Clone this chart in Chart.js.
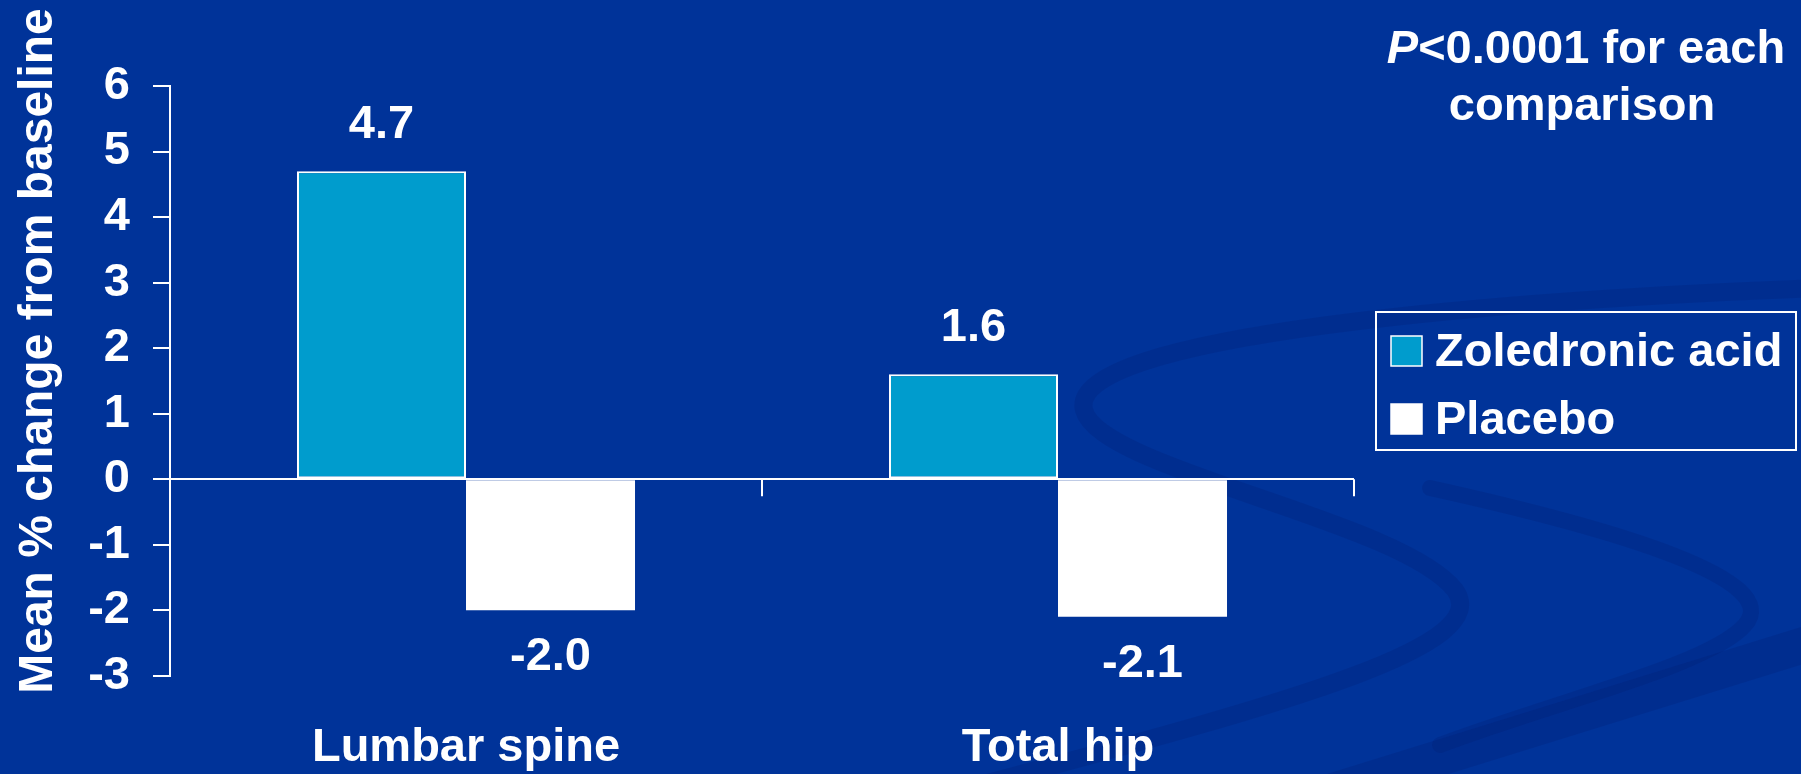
<!DOCTYPE html>
<html>
<head>
<meta charset="utf-8">
<script src="https://cdn.jsdelivr.net/npm/chart.js@4.4.1/dist/chart.umd.min.js"></script>
<style>
  html, body { margin: 0; padding: 0; background: #003399; }
  #wrap { width: 1801px; height: 774px; position: relative; }
</style>
</head>
<body>
<div id="wrap"><canvas id="bmdChart"></canvas></div>
<script>
const categories = ['Lumbar spine', 'Total hip'];
const seriesNames = ['Zoledronic acid', 'Placebo'];
const zoledronicValues = [4.7, 1.6];
const placeboValues = [-2.0, -2.1];
const yTicks = [-3, -2, -1, 0, 1, 2, 3, 4, 5, 6];
const yTitle = 'Mean % change from baseline';
const noteLines = ['<0.0001 for each', 'comparison'];

const FONT = "'Liberation Sans', Arial, sans-serif";
const TEAL = '#009ccd';

// background swooshes, drawn under the chart
const swooshPlugin = {
    id: 'swoosh',
    beforeDraw: (chart) => {
        const ctx = chart.ctx;
        ctx.save();
        ctx.lineCap = 'round';
        ctx.strokeStyle = 'rgba(0, 28, 110, 0.22)';
        ctx.lineWidth = 18;
        ctx.beginPath();
        ctx.moveTo(1820, 288);
        ctx.bezierCurveTo(1500, 300, 1065, 335, 1084, 410);
        ctx.bezierCurveTo(1100, 470, 1400, 520, 1455, 590);
        ctx.bezierCurveTo(1495, 645, 1300, 700, 980, 785);
        ctx.stroke();
        ctx.lineWidth = 16;
        ctx.beginPath();
        ctx.moveTo(1430, 488);
        ctx.bezierCurveTo(1620, 530, 1785, 580, 1745, 625);
        ctx.bezierCurveTo(1710, 665, 1560, 700, 1440, 745);
        ctx.stroke();
        ctx.lineWidth = 36;
        ctx.beginPath();
        ctx.moveTo(1320, 795);
        ctx.quadraticCurveTo(1560, 720, 1820, 640);
        ctx.stroke();
        ctx.restore();
    }
};

// value labels, category boundary ticks, y title, note and boxed legend
const overlayPlugin = {
    id: 'overlay',
    afterDatasetsDraw: (chart) => {
        const ctx = chart.ctx;
        const xs = chart.scales.x;
        const y0 = chart.scales.y.getPixelForValue(0);
        ctx.save();
        ctx.strokeStyle = '#ffffff';
        ctx.lineWidth = 2;
        for (let i = 1; i <= categories.length; i++) {
            const x = Math.round(xs.getPixelForValue(i - 0.5));
            ctx.beginPath();
            ctx.moveTo(x, y0);
            ctx.lineTo(x, y0 + 17);
            ctx.stroke();
        }
        ctx.fillStyle = '#ffffff';
        ctx.font = 'bold 47px ' + FONT;
        ctx.textAlign = 'center';
        ctx.textBaseline = 'alphabetic';
        chart.data.datasets.forEach((ds, i) => {
            chart.getDatasetMeta(i).data.forEach((bar, j) => {
                const v = ds.data[j];
                const y = v >= 0 ? bar.y - 33 : bar.y + 60;
                ctx.fillText(v.toFixed(1), bar.x, y);
            });
        });
        ctx.restore();
    },
    afterDraw: (chart) => {
        const ctx = chart.ctx;
        ctx.save();
        ctx.fillStyle = '#ffffff';

        // y axis title
        ctx.font = 'bold 48px ' + FONT;
        ctx.textAlign = 'center';
        ctx.textBaseline = 'alphabetic';
        ctx.translate(52, 351);
        ctx.rotate(-Math.PI / 2);
        ctx.fillText(yTitle, 0, 0);
        ctx.setTransform(1, 0, 0, 1, 0, 0);

        // P note
        ctx.font = 'bold 47px ' + FONT;
        const w1 = ctx.measureText(noteLines[0]).width;
        ctx.font = 'italic bold 47px ' + FONT;
        const wP = ctx.measureText('P').width;
        const x0 = 1586 - (w1 + wP) / 2;
        ctx.textAlign = 'left';
        ctx.fillText('P', x0, 63);
        ctx.font = 'bold 47px ' + FONT;
        ctx.fillText(noteLines[0], x0 + wP, 63);
        ctx.textAlign = 'center';
        ctx.fillText(noteLines[1], 1582, 120);

        // legend box
        ctx.strokeStyle = '#ffffff';
        ctx.lineWidth = 2;
        ctx.strokeRect(1376, 312, 420, 138);
        ctx.textAlign = 'left';
        chart.data.datasets.forEach((ds, i) => {
            const top = 336 + i * 68;
            ctx.fillStyle = ds.backgroundColor;
            ctx.fillRect(1391, top, 31, 30);
            ctx.strokeStyle = '#ffffff';
            ctx.lineWidth = 1.5;
            ctx.strokeRect(1391, top, 31, 30);
            ctx.fillStyle = '#ffffff';
            ctx.fillText(ds.label, 1435, top + 30);
        });
        ctx.restore();
    }
};

const ctx = document.getElementById('bmdChart').getContext('2d');
new Chart(ctx, {
    type: 'bar',
    data: {
        labels: categories,
        datasets: [{
            label: seriesNames[0],
            data: zoledronicValues,
            backgroundColor: TEAL,
            borderColor: '#ffffff',
            borderWidth: 2,
            borderSkipped: false
        }, {
            label: seriesNames[1],
            data: placeboValues,
            backgroundColor: '#ffffff',
            borderColor: '#ffffff',
            borderWidth: 0
        }]
    },
    options: {
        responsive: true,
        maintainAspectRatio: false,
        animation: false,
        categoryPercentage: 0.571,
        barPercentage: 1.0,
        layout: { padding: { top: 86, right: 447, left: 0, bottom: 0 } },
        plugins: {
            legend: { display: false },
            tooltip: { enabled: false }
        },
        scales: {
            x: {
                grid: { display: false, drawTicks: false },
                border: { display: false },
                ticks: {
                    color: '#ffffff',
                    padding: 44,
                    font: { family: FONT, size: 47, weight: 'bold' }
                },
                afterFit: (scale) => { scale.height = 98.3; }
            },
            y: {
                min: yTicks[0],
                max: yTicks[yTicks.length - 1],
                afterBuildTicks: (scale) => { scale.ticks = yTicks.map(v => ({ value: v })); },
                border: { display: true, color: '#ffffff', width: 2 },
                grid: {
                    color: (c) => c.tick && c.tick.value === 0 ? '#ffffff' : 'rgba(0,0,0,0)',
                    lineWidth: 2,
                    tickColor: '#ffffff',
                    tickWidth: 2,
                    tickLength: 17
                },
                ticks: {
                    color: '#ffffff',
                    padding: 23,
                    font: { family: FONT, size: 47, weight: 'bold' }
                },
                afterFit: (scale) => { scale.width = 170; }
            }
        }
    },
    plugins: [swooshPlugin, overlayPlugin]
});
</script>
</body>
</html>
